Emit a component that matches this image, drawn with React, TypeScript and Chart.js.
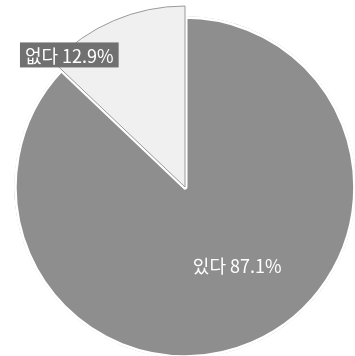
import React, { useEffect, useRef } from "react";
import { Chart, registerables } from "chart.js";

Chart.register(...registerables);

const categories = ["있다", "없다"];
const values = [87.1, 12.9];
const sliceColors = ["#8e8e8e", "#f0f0f0"];
const sliceBorders = ["#ffffff", "#9a9a9a"];
const sliceBorderWidths = [2.5, 1];
const sliceBorderAlign = ["inner", "center"];
// extra radius (px) the highlighted slice sticks out beyond the pie
const sliceRadiusExtra = [0, 10];
// label placement: angle shift (deg) from slice bisector, radius factor
const labelAngleShift = [-10.5, -18];
const labelRadiusFactor = [0.55, 0.97];
const labelBoxed = [false, true];

const radiusPlugin = {
  id: "sliceRadius",
  afterDatasetsUpdate(chart: any) {
    const meta = chart.getDatasetMeta(0);
    meta.data.forEach((arc: any, i: number) => {
      arc.outerRadius = arc.outerRadius + sliceRadiusExtra[i];
    });
  },
};

const labelPlugin = {
  id: "sliceLabels",
  afterDatasetsDraw(chart: any) {
    const meta = chart.getDatasetMeta(0);
    const ctx = chart.ctx;
    ctx.save();
    ctx.font = '18px "Noto Sans CJK KR", "Noto Sans", sans-serif';
    ctx.textBaseline = "middle";
    ctx.textAlign = "center";
    meta.data.forEach((arc: any, i: number) => {
      const p = arc.getProps(["x", "y", "startAngle", "endAngle", "outerRadius"], true);
      const mid = (p.startAngle + p.endAngle) / 2 + (labelAngleShift[i] * Math.PI) / 180;
      const r = p.outerRadius * labelRadiusFactor[i];
      const x = p.x + Math.cos(mid) * r;
      const y = p.y + Math.sin(mid) * r;
      const text = `${categories[i]} ${values[i]}%`;
      if (labelBoxed[i]) {
        const w = ctx.measureText(text).width + 10;
        const h = 25;
        ctx.fillStyle = "#707070";
        ctx.fillRect(x - w / 2, y - h / 2, w, h);
      }
      ctx.fillStyle = "#ffffff";
      ctx.fillText(text, x, y + 1);
    });
    ctx.restore();
  },
};

export default function App() {
  const ref = useRef<HTMLCanvasElement>(null);
  useEffect(() => {
    if (!ref.current) return;
    const chart = new Chart(ref.current, {
      type: "pie",
      data: {
        labels: categories,
        datasets: [
          {
            data: values,
            backgroundColor: sliceColors,
            borderColor: sliceBorders,
            borderWidth: sliceBorderWidths,
            borderAlign: sliceBorderAlign,
          },
        ],
      },
      options: {
        responsive: false,
        animation: false,
        radius: 171,
        layout: { padding: { left: 15, right: 0, top: 18, bottom: 0 } },
        plugins: {
          legend: { display: false },
          tooltip: { enabled: false },
        },
      } as any,
      plugins: [radiusPlugin, labelPlugin],
    });
    return () => chart.destroy();
  }, []);
  return (
    <div style={{ position: "absolute", left: 0, top: 0, width: 355, height: 356, background: "#fff" }}>
      <canvas ref={ref} width={355} height={356} style={{ display: "block" }} />
    </div>
  );
}
